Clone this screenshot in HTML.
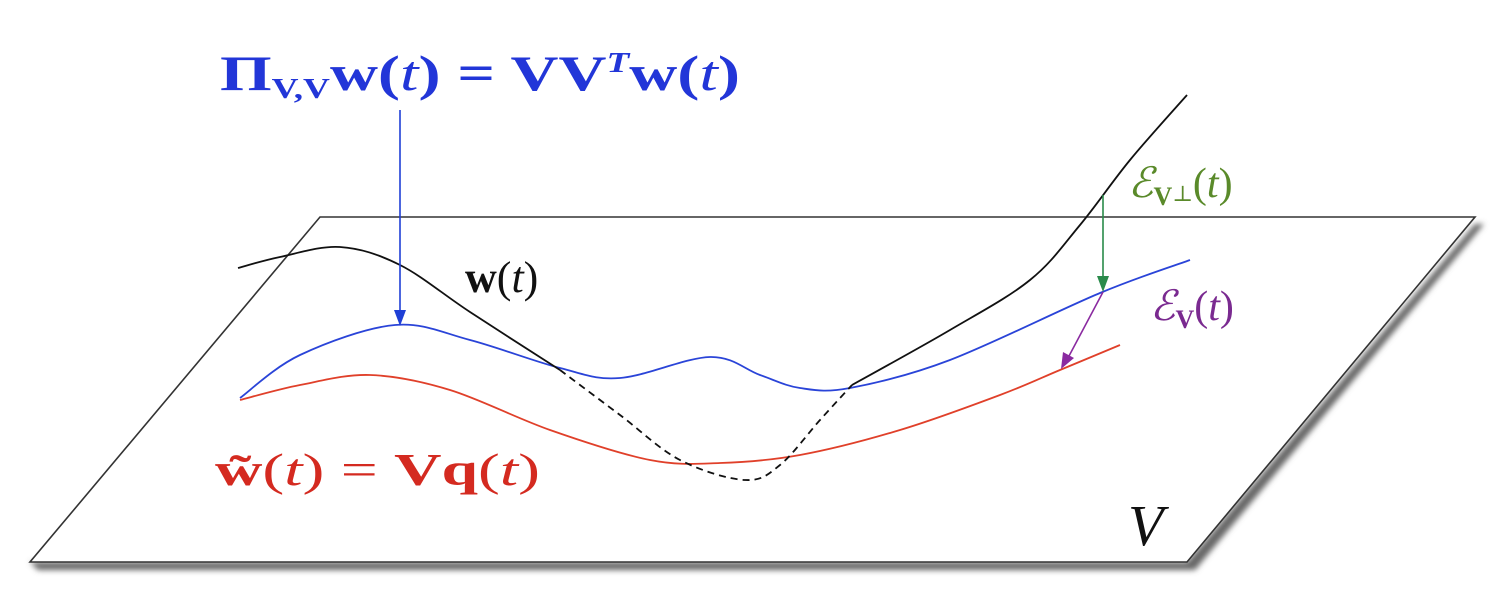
<!DOCTYPE html>
<html><head><meta charset="utf-8"><style>
html,body{margin:0;padding:0;background:#fff;width:1500px;height:602px;overflow:hidden}
svg{display:block}
text{font-family:"Liberation Serif","DejaVu Serif",serif}
</style></head><body>
<svg id="fig" width="1500" height="602" viewBox="0 0 1500 602">
<defs>
<filter id="sh" x="-5%" y="-5%" width="110%" height="120%"><feGaussianBlur stdDeviation="3"/></filter>
</defs>
<polygon points="38,570 1195,570 1484,224 1475,224 1187,562 30,562" fill="#666" filter="url(#sh)"/>
<polygon points="320,217 1475,217 1187,562 30,562" fill="#fff" stroke="#333" stroke-width="1.6"/>
<g id="curves"></g>
<line x1="400" y1="110" x2="400" y2="312" stroke="#1f3fd6" stroke-width="1.6"/>
<polygon points="394,310 406,310 400,326" fill="#1f3fd6"/>
<line x1="1103" y1="195" x2="1103" y2="278" stroke="#2a8a4a" stroke-width="1.6"/>
<polygon points="1097,276 1109,276 1103,292" fill="#2a8a4a"/>
<line x1="1103" y1="292" x2="1069" y2="356" stroke="#8a2aa0" stroke-width="1.6"/>
<polygon points="1063,352 1074,358 1061,369" fill="#8a2aa0"/>
<text x="220" y="90" font-size="50" font-weight="bold" fill="#2236d8" textLength="520" lengthAdjust="spacingAndGlyphs">Π<tspan font-size="28" dy="8">V,V</tspan><tspan dy="-8">w(<tspan font-style="italic" font-weight="normal">t</tspan>) = VV<tspan font-size="28" dy="-18" font-style="italic">T</tspan><tspan dy="18">w(<tspan font-style="italic" font-weight="normal">t</tspan>)</tspan></tspan></text>
<text x="465" y="292" font-size="44" fill="#111"><tspan font-weight="bold">w</tspan>(<tspan font-style="italic">t</tspan>)</text>
<text x="215" y="485" font-size="46" fill="#d42a20" textLength="325" lengthAdjust="spacingAndGlyphs"><tspan font-weight="bold">w̃</tspan>(<tspan font-style="italic">t</tspan>) = <tspan font-weight="bold">Vq</tspan>(<tspan font-style="italic">t</tspan>)</text>
<text x="1128" y="197" font-size="42" fill="#5a8a2a"><tspan font-style="italic">ℰ</tspan><tspan font-size="26" dy="8" font-weight="bold">V</tspan><tspan font-size="22" dy="-4">⊥</tspan><tspan dy="-4">(<tspan font-style="italic">t</tspan>)</tspan></text>
<text x="1150" y="320" font-size="42" fill="#7a2a90"><tspan font-style="italic">ℰ</tspan><tspan font-size="26" dy="8" font-weight="bold">V</tspan><tspan dy="-8">(<tspan font-style="italic">t</tspan>)</tspan></text>
<text x="1128" y="545" font-size="58" font-style="italic" fill="#111">V</text>
</svg>
<script>
const blackSolidA = [[238,268],[280,257],[340,247],[400,265],[470,312],[560,370]];
const blackDashed = [[560,370],[620,415],[680,460],[745,480],[780,465],[820,420],[852,385]];
const blackSolidB = [[852,385],[950,330],[1030,280],[1080,225],[1130,160],[1187,95]];
const bluePts = [[240,398],[300,355],[395,325],[470,340],[560,368],[620,378],[710,357],[760,375],[800,388],[850,388],[950,360],[1100,293],[1190,260]];
const redPts = [[240,400],[300,385],[370,375],[450,390],[550,430],[650,460],[720,463],[800,455],[900,430],[1000,395],[1060,370],[1120,345]];
function pathD(p){
  let d='M'+p[0][0]+','+p[0][1];
  for(let i=0;i<p.length-1;i++){
    const p0=p[i-1]||p[i],p1=p[i],p2=p[i+1],p3=p[i+2]||p2;
    const c1=[p1[0]+(p2[0]-p0[0])/6,p1[1]+(p2[1]-p0[1])/6];
    const c2=[p2[0]-(p3[0]-p1[0])/6,p2[1]-(p3[1]-p1[1])/6];
    d+=' C'+c1+' '+c2+' '+p2;
  }
  return d;
}
const g=document.getElementById('curves');
function add(pts,color,name,dash){
  const el=document.createElementNS('http://www.w3.org/2000/svg','path');
  el.setAttribute('d',pathD(pts));
  el.setAttribute('fill','none');
  el.setAttribute('stroke',color);
  el.setAttribute('stroke-width','1.8');
  if(dash) el.setAttribute('stroke-dasharray','7,5');
  
  
  g.appendChild(el);
}
add(redPts,'#e0402a','reduced-curve');
add(bluePts,'#2a44d8','projected-curve');
add(blackSolidA,'#111','full-curve-left');
add(blackDashed,'#111','full-curve-hidden',true);
add(blackSolidB,'#111','full-curve-right');
</script>
</body></html>
